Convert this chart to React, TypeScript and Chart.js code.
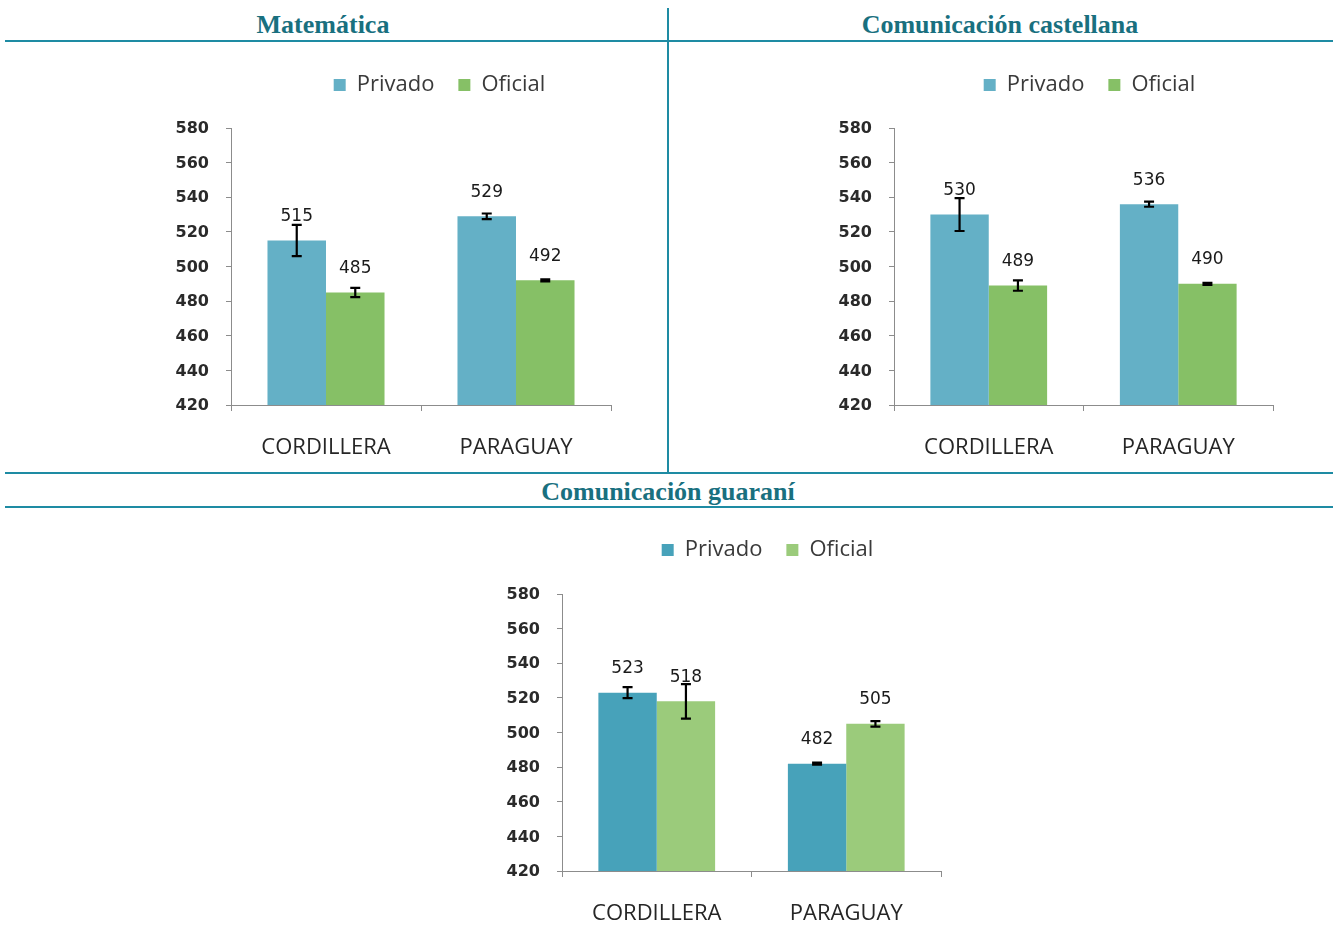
import React, { useEffect, useRef } from "react";
import { Chart, registerables } from "chart.js";

Chart.register(...registerables);

const categories = ["CORDILLERA", "PARAGUAY"];
const seriesNames = ["Privado", "Oficial"];

const matPrivado = [515, 529];
const matOficial = [485, 492];
const matPrivadoErr = [9, 1.6];
const matOficialErr = [2.7, 0.6];

const casPrivado = [530, 536];
const casOficial = [489, 490];
const casPrivadoErr = [9.5, 1.5];
const casOficialErr = [3, 0.6];

const guaPrivado = [523, 482];
const guaOficial = [518, 505];
const guaPrivadoErr = [3.2, 0.6];
const guaOficialErr = [10, 1.6];

const yMin = 420;
const yMax = 580;
const yStep = 20;

const TEAL_LINE = "#1E8BA3";
const TEAL_TEXT = "#19707F";
const AXIS = "#8C8C8C";

type Props = {
  left: number;
  top: number;
  width: number;
  height: number;
  leftW: number;
  rightW: number;
  legendH: number;
  privado: number[];
  oficial: number[];
  privErr: number[];
  ofErr: number[];
  colors: [string, string];
};

function BarChart(p: Props) {
  const ref = useRef<HTMLCanvasElement | null>(null);
  useEffect(() => {
    if (!ref.current) return;
    const errs = [p.privErr, p.ofErr];
    const legendFit = {
      id: "legendFit",
      beforeInit(chart: any) {
        const leg = chart.legend;
        if (!leg || leg.__patched) return;
        const orig = leg.fit;
        leg.fit = function () {
          orig.call(this);
          this.height = p.legendH;
        };
        leg.__patched = true;
      },
    };
    const errorBars = {
      id: "errorBars",
      afterDatasetsDraw(chart: any) {
        const ctx = chart.ctx;
        const ys = chart.scales.y;
        ctx.save();
        ctx.strokeStyle = "#000";
        ctx.lineWidth = 2.2;
        chart.data.datasets.forEach((ds: any, i: number) => {
          const meta = chart.getDatasetMeta(i);
          meta.data.forEach((el: any, j: number) => {
            const v = ds.data[j];
            const e = errs[i][j];
            const yt = ys.getPixelForValue(v + e);
            const yb = ys.getPixelForValue(v - e);
            const x = el.x;
            ctx.beginPath();
            ctx.moveTo(x, yt);
            ctx.lineTo(x, yb);
            ctx.moveTo(x - 5, yt);
            ctx.lineTo(x + 5, yt);
            ctx.moveTo(x - 5, yb);
            ctx.lineTo(x + 5, yb);
            ctx.stroke();
          });
        });
        ctx.restore();
      },
    };
    const dataLabels = {
      id: "dataLabels",
      afterDraw(chart: any) {
        const ctx = chart.ctx;
        ctx.save();
        ctx.font = "17px 'DejaVu Sans'";
        ctx.fillStyle = "#1a1a1a";
        ctx.textAlign = "center";
        ctx.textBaseline = "middle";
        chart.data.datasets.forEach((ds: any, i: number) => {
          const meta = chart.getDatasetMeta(i);
          meta.data.forEach((el: any, j: number) => {
            ctx.fillText(String(ds.data[j]), el.x, el.y - 24);
          });
        });
        ctx.restore();
      },
    };
    const chart = new Chart(ref.current, {
      type: "bar",
      data: {
        labels: categories,
        datasets: [
          {
            label: seriesNames[0],
            data: p.privado,
            backgroundColor: p.colors[0],
            borderWidth: 0,
            barPercentage: 1,
            categoryPercentage: 0.616,
          },
          {
            label: seriesNames[1],
            data: p.oficial,
            backgroundColor: p.colors[1],
            borderWidth: 0,
            barPercentage: 1,
            categoryPercentage: 0.616,
          },
        ],
      },
      options: {
        animation: false,
        responsive: false,
        devicePixelRatio: 1,
        layout: { padding: 0 },
        plugins: {
          legend: {
            position: "top",
            labels: {
              boxWidth: 12,
              boxHeight: 12,
              padding: 24,
              color: "#3a3a3a",
              font: { family: "'Open Sans'", size: 22 },
            },
          },
          tooltip: { enabled: false },
          title: { display: false },
        },
        scales: {
          x: {
            grid: {
              display: true,
              drawOnChartArea: false,
              drawTicks: true,
              tickLength: 6,
              color: AXIS,
              offset: true,
            },
            border: { display: true, color: AXIS, width: 1 },
            ticks: {
              color: "#262626",
              padding: 24,
              font: { family: "'Open Sans'", size: 22 },
            },
            afterFit: (s: any) => {
              s.height = 56;
            },
          },
          y: {
            min: yMin,
            max: yMax,
            grid: {
              display: true,
              drawOnChartArea: false,
              drawTicks: true,
              tickLength: 5,
              color: AXIS,
            },
            border: { display: true, color: AXIS, width: 1 },
            ticks: {
              stepSize: yStep,
              color: "#2a2a2a",
              padding: 17,
              labelOffset: 1,
              font: { family: "'DejaVu Sans'", size: 16, weight: "bold" },
            },
            afterFit: (s: any) => {
              s.width = p.leftW;
            },
          },
          yR: {
            type: "linear",
            position: "right",
            display: true,
            grid: { display: false },
            border: { display: false },
            ticks: { display: false },
            afterFit: (s: any) => {
              s.width = p.rightW;
            },
          },
        },
      },
      plugins: [legendFit, errorBars, dataLabels],
    } as any);
    return () => chart.destroy();
  }, []);
  return (
    <canvas
      ref={ref}
      width={p.width}
      height={p.height}
      style={{
        position: "absolute",
        left: p.left,
        top: p.top,
        width: p.width,
        height: p.height,
      }}
    />
  );
}

const titleStyle = (cx: number, cy: number): React.CSSProperties => ({
  position: "absolute",
  left: cx - 300,
  width: 600,
  top: cy - 16,
  height: 32,
  lineHeight: "32px",
  textAlign: "center",
  fontFamily: "'Liberation Serif', 'Times New Roman', serif",
  fontWeight: "bold",
  fontSize: 26,
  color: TEAL_TEXT,
});

const line = (
  x: number,
  y: number,
  w: number,
  h: number
): React.CSSProperties => ({
  position: "absolute",
  left: x,
  top: y,
  width: w,
  height: h,
  background: TEAL_LINE,
});

export default function App() {
  return (
    <div
      style={{
        position: "fixed",
        left: 0,
        top: 0,
        width: 1335,
        height: 927,
        overflow: "hidden",
        background: "#fff",
      }}
    >
      <div style={titleStyle(323, 25)}>Matemática</div>
      <div style={titleStyle(1000, 25)}>Comunicación castellana</div>
      <div style={titleStyle(668, 492)}>Comunicación guaraní</div>
      <div style={line(5, 40, 1328, 2)} />
      <div style={line(667, 8, 2, 466)} />
      <div style={line(5, 472, 1328, 2)} />
      <div style={line(5, 506, 1328, 2)} />

      <BarChart
        left={160}
        top={50}
        width={559}
        height={411}
        leftW={71}
        rightW={108}
        legendH={78}
        privado={matPrivado}
        oficial={matOficial}
        privErr={matPrivadoErr}
        ofErr={matOficialErr}
        colors={["#64B0C6", "#86C066"]}
      />
      <BarChart
        left={823}
        top={50}
        width={533}
        height={411}
        leftW={71}
        rightW={83}
        legendH={78}
        privado={casPrivado}
        oficial={casOficial}
        privErr={casPrivadoErr}
        ofErr={casOficialErr}
        colors={["#64B0C6", "#86C066"]}
      />
      <BarChart
        left={491}
        top={515}
        width={553}
        height={412}
        leftW={71}
        rightW={103}
        legendH={79}
        privado={guaPrivado}
        oficial={guaOficial}
        privErr={guaPrivadoErr}
        ofErr={guaOficialErr}
        colors={["#47A2BA", "#9BCB7B"]}
      />
    </div>
  );
}
